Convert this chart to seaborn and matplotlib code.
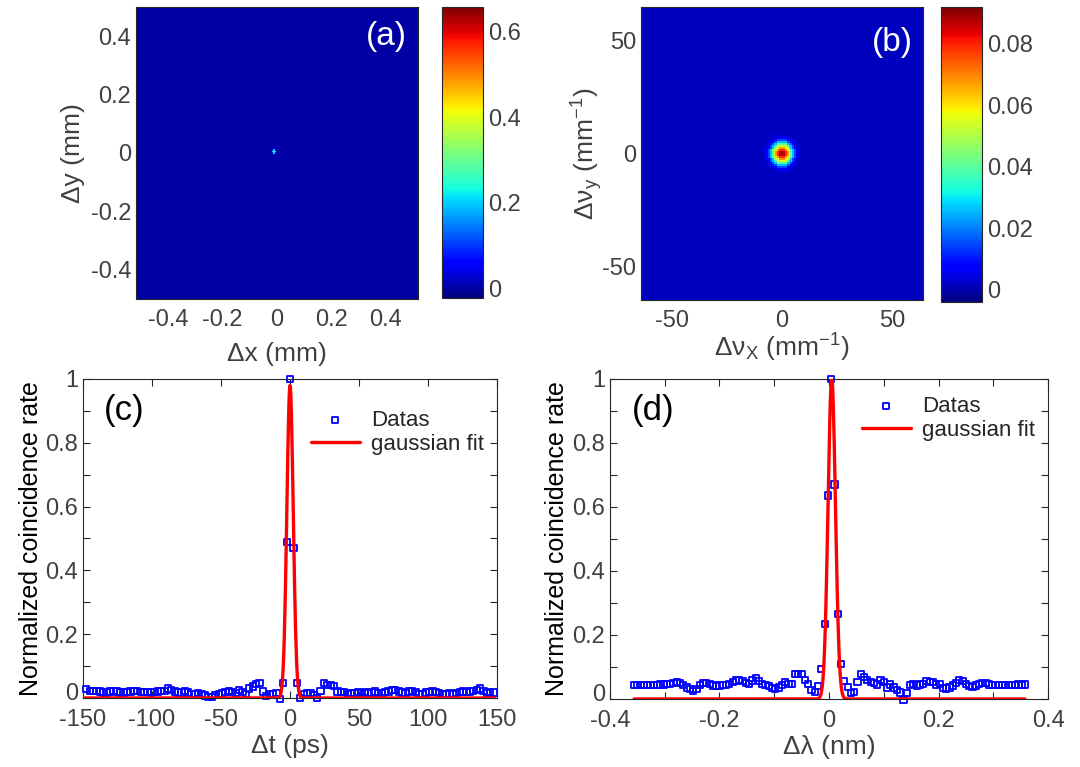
import numpy as np
import matplotlib
matplotlib.use("Agg")
import matplotlib.pyplot as plt
from matplotlib.ticker import FixedLocator, FormatStrFormatter
from matplotlib.transforms import ScaledTranslation
import seaborn as sns

# ─────────────────────────────────────────────────────────────────────────────
# Data
# ─────────────────────────────────────────────────────────────────────────────
# (a) near field correlation image
a_xlim = (-0.52, 0.52)
a_ylim = (-0.5, 0.5)
a_cells = 181
a_background = 0.0
a_spot = [[0.06, 0.20, 0.06],
          [0.20, 0.26, 0.20],
          [0.06, 0.20, 0.06]]
a_spot_shift = (-2, -1)          # cells (x, row)
a_crange = (-0.023, 0.658)
a_xticks = [-0.4, -0.2, 0, 0.2, 0.4]
a_yticks = [0.4, 0.2, 0, -0.2, -0.4]
a_cticks = [0, 0.2, 0.4, 0.6]
a_cminor = [0.1, 0.3, 0.5]

# (b) far field correlation image (radial profile of the spot, per cell)
b_xlim = (-64, 64)
b_ylim = (-65, 65)
b_cells = 151
b_background = 0.0015
b_profile = [0.091, 0.087, 0.079, 0.068, 0.054, 0.040, 0.026, 0.015, 0.008,
             0.004]
b_crange = (-0.004, 0.092)
b_xticks = [-50, 0, 50]
b_yticks = [50, 0, -50]
b_cticks = [0, 0.02, 0.04, 0.06, 0.08]
b_cminor = [0.01, 0.03, 0.05, 0.07]

# (c) coincidence vs time delay
c_dt_start, c_dt_step = -147.6, 2.46
c_rate = [
    0.027, 0.022, 0.022, 0.022, 0.020, 0.017, 0.017, 0.020, 0.022, 0.020,
    0.017, 0.017, 0.018, 0.020, 0.023, 0.022, 0.019, 0.018, 0.018, 0.017,
    0.018, 0.020, 0.023, 0.022, 0.030, 0.026, 0.020, 0.017, 0.017, 0.022,
    0.017, 0.013, 0.013, 0.015, 0.012, 0.008, 0.002, 0.003, 0.010, 0.012,
    0.014, 0.018, 0.023, 0.018, 0.016, 0.026, 0.018, 0.013, 0.030, 0.036,
    0.044, 0.048, 0.020, 0.005, 0.013, 0.013, 0.015, -0.002, 0.047, 0.490,
    1.000, 0.470, 0.048, 0.000, 0.013, 0.015, 0.015, 0.010, 0.001, 0.023,
    0.046, 0.040, 0.040, 0.038, 0.020, 0.018, 0.018, 0.013, 0.015, 0.014,
    0.019, 0.016, 0.018, 0.014, 0.017, 0.020, 0.016, 0.014, 0.018, 0.020,
    0.024, 0.026, 0.020, 0.017, 0.015, 0.020, 0.023, 0.018, 0.013, 0.012,
    0.017, 0.019, 0.020, 0.018, 0.015, 0.013, 0.012, 0.014, 0.011, 0.015,
    0.018, 0.020, 0.019, 0.020, 0.021, 0.025, 0.030, 0.022, 0.015, 0.018,
    0.017,
]
c_fit_amp, c_fit_center, c_fit_sigma = 0.98, 0.0, 2.3
c_fit_span = (-150, 148)

# (d) coincidence vs wavelength difference
d_dl_start, d_dl_step = -0.356, 0.006
d_rate = [
    0.044, 0.044, 0.044, 0.044, 0.043, 0.043, 0.044, 0.044, 0.045, 0.045,
    0.046, 0.048, 0.050, 0.053, 0.050, 0.044, 0.036, 0.030, 0.026, 0.032,
    0.044, 0.049, 0.050, 0.047, 0.042, 0.040, 0.042, 0.044, 0.043, 0.046,
    0.052, 0.058, 0.059, 0.056, 0.050, 0.046, 0.058, 0.065, 0.055, 0.048,
    0.044, 0.040, 0.034, 0.030, 0.036, 0.044, 0.052, 0.046, 0.047, 0.077,
    0.079, 0.078, 0.060, 0.046, 0.028, 0.023, 0.040, 0.094, 0.234, 0.636,
    1.000, 0.670, 0.265, 0.110, 0.057, 0.038, 0.018, 0.023, 0.054, 0.078,
    0.068, 0.060, 0.054, 0.050, 0.045, 0.060, 0.052, 0.036, 0.045, 0.036,
    0.028, 0.020, -0.002, 0.018, 0.044, 0.046, 0.042, 0.045, 0.048, 0.055,
    0.054, 0.052, 0.045, 0.048, 0.035, 0.033, 0.036, 0.042, 0.050, 0.059,
    0.055, 0.047, 0.040, 0.038, 0.042, 0.048, 0.050, 0.049, 0.045, 0.043,
    0.044, 0.044, 0.044, 0.043, 0.044, 0.044, 0.044, 0.045, 0.044, 0.045,
]
d_fit_amp, d_fit_center, d_fit_sigma = 1.0, 0.005, 0.0068
d_fit_span = (-0.356, 0.358)

# ─────────────────────────────────────────────────────────────────────────────
# Style
# ─────────────────────────────────────────────────────────────────────────────
sns.set_style("ticks")
plt.rcParams["font.family"] = ["Liberation Sans", "DejaVu Sans"]
plt.rcParams["mathtext.fontset"] = "custom"
plt.rcParams["mathtext.rm"] = "Liberation Sans"
plt.rcParams["mathtext.it"] = "Liberation Sans"

FRAME = "#262626"
TXT = "#404040"
TICK_FS = 17
LABEL_FS = 19


def style_frame(ax, xpad=4):
    for sp in ax.spines.values():
        sp.set_visible(True)
        sp.set_color(FRAME)
        sp.set_linewidth(0.8)
    ax.tick_params(which="both", direction="in", length=5, width=0.8,
                   color=FRAME, labelcolor=TXT, labelsize=TICK_FS,
                   top=True, right=True, bottom=True, left=True)
    ax.tick_params(axis="x", pad=xpad)


def style_cbar(ax, ticks, minor):
    cb = ax.collections[0].colorbar
    cb.outline.set_visible(True)
    cb.outline.set_linewidth(0.8)
    cb.outline.set_edgecolor(FRAME)
    cb.set_ticks(ticks)
    cb.ax.yaxis.set_minor_locator(FixedLocator(minor))
    cb.ax.yaxis.set_major_formatter(FormatStrFormatter("%g"))
    cb.ax.tick_params(which="both", direction="in", length=4, width=0.8,
                      color=FRAME, labelcolor=TXT, labelsize=TICK_FS,
                      right=True, left=False)


def image_axes(ax, xlim, ylim, n, xticks, yticks):
    dx = (xlim[1] - xlim[0]) / n
    dy = (ylim[1] - ylim[0]) / n
    ax.set_xticks([(v - xlim[0]) / dx for v in xticks])
    ax.set_xticklabels(["%g" % v for v in xticks], rotation=0)
    ax.set_yticks([(ylim[1] - v) / dy for v in yticks])
    ax.set_yticklabels(["%g" % v for v in yticks], rotation=0)
    style_frame(ax, xpad=7)


fig = plt.figure(figsize=(10.8, 7.67), dpi=100)

# ── (a) ─────────────────────────────────────────────────────────────────────
grid_a = np.full((a_cells, a_cells), a_background)
ca = a_cells // 2
spot = np.array(a_spot)
r0 = ca + a_spot_shift[1] - 1
c0 = ca + a_spot_shift[0] - 1
grid_a[r0:r0 + 3, c0:c0 + 3] = spot

ax_a = fig.add_axes([0.1259, 0.6102, 0.2611, 0.3807])
cax_a = fig.add_axes([0.4093, 0.6115, 0.038, 0.3794])
sns.heatmap(grid_a, ax=ax_a, cbar_ax=cax_a, cmap="jet",
            vmin=a_crange[0], vmax=a_crange[1],
            xticklabels=False, yticklabels=False)
image_axes(ax_a, a_xlim, a_ylim, a_cells, a_xticks, a_yticks)
style_cbar(ax_a, a_cticks, a_cminor)
ax_a.set_xlabel("\u0394x (mm)", fontsize=LABEL_FS, color=TXT, labelpad=8)
ax_a.set_ylabel("\u0394y (mm)", fontsize=LABEL_FS, color=TXT)
ax_a.text(0.96, 0.90, "(a)", transform=ax_a.transAxes, ha="right",
          va="center", color="white", fontsize=24)

# ── (b) ─────────────────────────────────────────────────────────────────────
grid_b = np.full((b_cells, b_cells), b_background)
cb_ = b_cells // 2
for i in range(b_cells):
    for j in range(b_cells):
        r = int(round(np.hypot(i - cb_, j - cb_)))
        if r < len(b_profile):
            grid_b[i, j] = b_profile[r]

ax_b = fig.add_axes([0.5935, 0.6089, 0.2611, 0.382])
cax_b = fig.add_axes([0.8713, 0.6063, 0.038, 0.3846])
sns.heatmap(grid_b, ax=ax_b, cbar_ax=cax_b, cmap="jet",
            vmin=b_crange[0], vmax=b_crange[1],
            xticklabels=False, yticklabels=False)
image_axes(ax_b, b_xlim, b_ylim, b_cells, b_xticks, b_yticks)
style_cbar(ax_b, b_cticks, b_cminor)
ax_b.set_xlabel("\u0394\u03bd$_{\\mathrm{X}}$ (mm$^{\\mathrm{-1}}$)",
                fontsize=LABEL_FS, color=TXT, labelpad=0)
ax_b.set_ylabel("\u0394\u03bd$_{\\mathrm{y}}$ (mm$^{\\mathrm{-1}}$)",
                fontsize=LABEL_FS, color=TXT, labelpad=-2)
ax_b.text(0.965, 0.88, "(b)", transform=ax_b.transAxes, ha="right",
          va="center", color="white", fontsize=24)


# ── (c), (d) ────────────────────────────────────────────────────────────────
def coincidence_panel(rect, start, step, rate, fit, span, xlim, xticks,
                      xminor, xlabel, tag, legend_y):
    ax = fig.add_axes(rect)
    x = start + step * np.arange(len(rate))
    amp, mu, sig = fit
    fx = np.linspace(span[0], span[1], 800)
    fy = amp * np.exp(-(fx - mu) ** 2 / (2 * sig ** 2))
    sns.scatterplot(x=x, y=rate, ax=ax, marker="s", s=20,
                    facecolor="none", edgecolor="#0000ff", linewidth=1.3,
                    label="Datas", clip_on=False, zorder=2)
    sns.lineplot(x=fx, y=fy, ax=ax, color="#ff0000", linewidth=2.4,
                 label="gaussian fit", zorder=3)
    ax.set_xlim(*xlim)
    ax.set_ylim(0, 1)
    ax.set_xticks(xticks)
    ax.xaxis.set_minor_locator(FixedLocator(xminor))
    ax.xaxis.set_major_formatter(FormatStrFormatter("%g"))
    ax.set_yticks([0, 0.2, 0.4, 0.6, 0.8, 1])
    ax.yaxis.set_minor_locator(FixedLocator([0.1, 0.3, 0.5, 0.7, 0.9]))
    ax.yaxis.set_major_formatter(FormatStrFormatter("%g"))
    style_frame(ax, xpad=8)
    # the "0" label sits a little above the axis line, as in the original
    zero = ax.get_yticklabels()[0]
    zero.set_transform(zero.get_transform()
                       + ScaledTranslation(0, 5 / 72, fig.dpi_scale_trans))
    ax.set_xlabel(xlabel, fontsize=LABEL_FS, color=TXT, labelpad=2)
    ax.set_ylabel("Normalized coincidence rate", fontsize=18, color="black",
                  labelpad=2)
    ax.text(0.05, 0.90, tag, transform=ax.transAxes, ha="left",
            va="center", color="black", fontsize=25)
    ax.legend(loc="upper right", bbox_to_anchor=(1.0, legend_y),
              frameon=False, fontsize=16, handlelength=2.2,
              handletextpad=0.5, labelspacing=0.15, borderaxespad=0.2)
    return ax


coincidence_panel([0.0769, 0.09, 0.3833, 0.4159], c_dt_start, c_dt_step,
                  c_rate, (c_fit_amp, c_fit_center, c_fit_sigma), c_fit_span,
                  (-150, 150), [-150, -100, -50, 0, 50, 100, 150], [],
                  "\u0394t (ps)", "(c)", 0.945)
coincidence_panel([0.5648, 0.0887, 0.4056, 0.4172], d_dl_start, d_dl_step,
                  d_rate, (d_fit_amp, d_fit_center, d_fit_sigma), d_fit_span,
                  (-0.4, 0.4), [-0.4, -0.2, 0, 0.2, 0.4], [-0.3, -0.1, 0.1, 0.3],
                  "\u0394\u03bb (nm)", "(d)", 0.99)

fig.savefig("out.png", dpi=100)
